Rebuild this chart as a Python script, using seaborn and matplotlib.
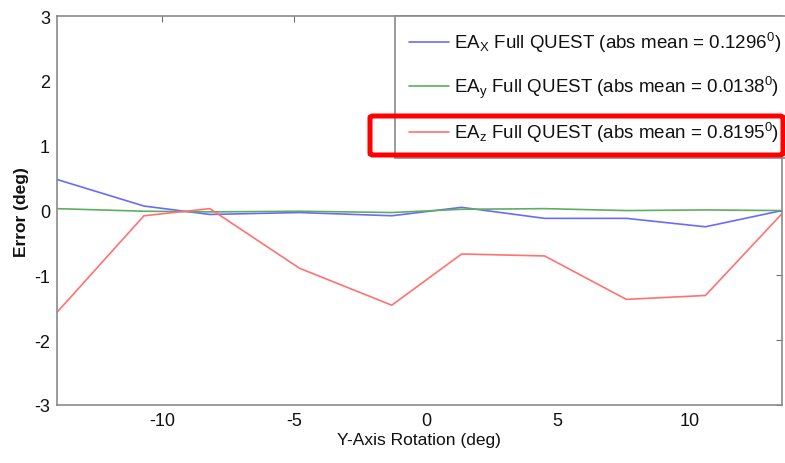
import numpy as np
import pandas as pd
import matplotlib
matplotlib.use("Agg")
import matplotlib.pyplot as plt
import seaborn as sns
from matplotlib.patches import FancyBboxPatch

# data
rotation = [-14.0, -10.7, -8.2, -4.8, -1.3, 1.35, 4.5, 7.6, 10.6, 13.5]
err_x = [0.48, 0.07, -0.06, -0.03, -0.08, 0.05, -0.12, -0.12, -0.25, 0.0]
err_y = [0.03, -0.01, -0.02, -0.01, -0.03, 0.02, 0.03, 0.00, 0.01, 0.0]
err_z = [-1.57, -0.08, 0.03, -0.89, -1.46, -0.67, -0.70, -1.37, -1.31, -0.05]
labels = ["EA$_X$ Full QUEST (abs mean = 0.1296$^0$)",
          "EA$_y$ Full QUEST (abs mean = 0.0138$^0$)",
          "EA$_z$ Full QUEST (abs mean = 0.8195$^0$)"]
colors = ["#6a6aff", "#5fae5f", "#ff7272"]

df = pd.DataFrame({
    "rot": rotation * 3,
    "err": err_x + err_y + err_z,
    "series": [labels[0]] * len(rotation) + [labels[1]] * len(rotation) + [labels[2]] * len(rotation),
})

sns.set_style("white")
plt.rcParams["font.family"] = ["Liberation Sans", "DejaVu Sans"]
plt.rcParams["mathtext.fontset"] = "custom"
plt.rcParams["mathtext.rm"] = "Liberation Sans"
plt.rcParams["mathtext.it"] = "Liberation Sans"
plt.rcParams["axes.unicode_minus"] = False

fig = plt.figure(figsize=(7.85, 4.64), dpi=100)
ax = fig.add_axes([0.0726, 0.125, 0.9234, 0.838])

sns.lineplot(data=df, x="rot", y="err", hue="series", palette=colors,
             linewidth=1.2, ax=ax, sort=False, estimator=None)

ax.set_xlim(-14, 13.5)
ax.set_ylim(-3, 3)
ax.set_xticks([-10, -5, 0, 5, 10])
ax.set_yticks([-3, -2, -1, 0, 1, 2, 3])
ax.tick_params(direction="in", length=4, color="#707070", labelsize=13,
               labelcolor="#111111", top=True, right=True, pad=5)
for s in ax.spines.values():
    s.set_color("#8a8a8a")
    s.set_linewidth(1.2)
    s.set_zorder(5)
ax.set_xlabel("Y-Axis Rotation (deg)", fontsize=12.5, labelpad=2, color="#111111")
ax.set_ylabel("Error (deg)", fontsize=12.5, labelpad=4, color="#111111",
              fontweight="bold")

handles, lbls = ax.get_legend_handles_labels()
leg = ax.legend(handles, lbls, loc="upper right", bbox_to_anchor=(1.019, 1.0),
                borderaxespad=0, fontsize=13.5, frameon=True, fancybox=False,
                edgecolor="#8a8a8a", framealpha=1, labelspacing=1.05,
                handlelength=2.1, handletextpad=0.3, borderpad=0.75)
leg.get_frame().set_linewidth(1.2)
for t in leg.get_texts():
    t.set_color("#111111")

# red highlight box around the z entry
fig.patches.append(FancyBboxPatch((370 / 785, 1 - 156 / 464), 413 / 785, 39 / 464,
                                  boxstyle="round,pad=0,rounding_size=0.004",
                                  transform=fig.transFigure, fill=False,
                                  edgecolor="#ff0000", linewidth=3.6, zorder=10))

fig.savefig("out.png", dpi=100)
